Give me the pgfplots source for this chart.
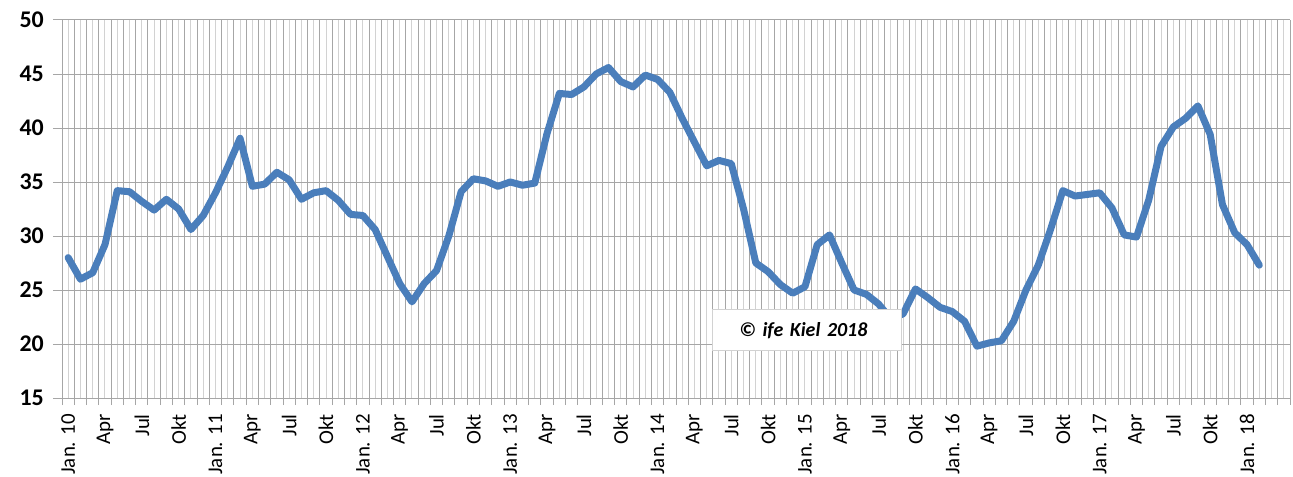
\documentclass[border=0pt]{standalone}
\usepackage{pgfplots}
\pgfplotsset{compat=1.18}
\usepackage{fontspec}
\setmainfont{Carlito}[BoldFont={Carlito Bold}, BoldItalicFont={Carlito Bold Italic}]
\definecolor{serie}{RGB}{74,126,187}
\definecolor{gridA}{RGB}{166,166,166}
\definecolor{gridB}{RGB}{210,210,210}
\begin{document}
\begin{tikzpicture}
\begin{axis}[
  at={(0,0)}, anchor=south west,
  scale only axis,
  width=1228bp, height=378bp,
  xmin=-0.5, xmax=99.5,
  ymin=15, ymax=50,
  ytick={15,20,...,50},
  xtick={0,...,99},
  xticklabels={Jan. 10,,,Apr,,,Jul,,,Okt,,,Jan. 11,,,Apr,,,Jul,,,Okt,,,Jan. 12,,,Apr,,,Jul,,,Okt,,,Jan. 13,,,Apr,,,Jul,,,Okt,,,Jan. 14,,,Apr,,,Jul,,,Okt,,,Jan. 15,,,Apr,,,Jul,,,Okt,,,Jan. 16,,,Apr,,,Jul,,,Okt,,,Jan. 17,,,Apr,,,Jul,,,Okt,,,Jan. 18,,,},
  minor xtick={-0.5,0.5,...,99.5},
  major tick length=9bp,
  minor tick length=7bp,
  major x tick style={draw=none},
  minor x tick style={draw=gridA, line width=1pt},
  ytick style={draw=gridA, line width=1pt},
  tick align=outside,
  xmajorgrids, xminorgrids, ymajorgrids,
  major x grid style={draw=gridB, line width=1pt},
  minor x grid style={draw=gridA, line width=1pt},
  major y grid style={draw=gridA, line width=1pt},
  axis x line*=bottom, axis y line*=left,
  axis line style={draw=gridA, line width=1pt},
  yticklabel style={font=\fontsize{24}{26}\selectfont\bfseries, anchor=east, inner sep=0pt, xshift=-9bp},
  xticklabel style={font=\fontsize{21}{23}\selectfont, yshift=-7bp, rotate=90, anchor=east, inner sep=0pt},
  /pgf/number format/assume math mode=true,
  clip=false,
]
\addplot[serie, line width=7bp, line join=round, line cap=round] table {
0 28.0
1 26.0
2 26.6
3 29.2
4 34.2
5 34.1
6 33.2
7 32.4
8 33.4
9 32.5
10 30.6
11 31.9
12 34.0
13 36.4
14 39.05
15 34.6
16 34.8
17 35.9
18 35.2
19 33.4
20 34.0
21 34.2
22 33.3
23 32.0
24 31.9
25 30.6
26 28.1
27 25.6
28 23.9
29 25.6
30 26.8
31 30.0
32 34.1
33 35.3
34 35.1
35 34.6
36 35.0
37 34.7
38 34.9
39 39.5
40 43.2
41 43.1
42 43.8
43 45.0
44 45.6
45 44.3
46 43.8
47 44.9
48 44.5
49 43.3
50 40.9
51 38.7
52 36.5
53 37.0
54 36.7
55 32.5
56 27.5
57 26.7
58 25.5
59 24.7
60 25.3
61 29.2
62 30.1
63 27.5
64 25.0
65 24.6
66 23.7
67 22.3
68 22.8
69 25.1
70 24.3
71 23.4
72 23.0
73 22.1
74 19.8
75 20.1
76 20.3
77 22.1
78 25.0
79 27.3
80 30.6
81 34.2
82 33.7
83 33.85
84 34.0
85 32.6
86 30.1
87 29.9
88 33.35
89 38.3
90 40.1
91 40.9
92 42.05
93 39.4
94 32.9
95 30.3
96 29.2
97 27.3
};
\node[draw=gridB, line width=1pt, fill=white, inner sep=0pt, text width=189bp, minimum height=41bp, align=left, font=\fontsize{20}{22}\selectfont\bfseries\itshape] at (axis cs:60.15,21.28) {\hspace*{27bp}©~ife~Kiel~2018};
\end{axis}
\pgfresetboundingbox
\path (-62bp,-79bp) rectangle (1231bp,398bp);
\end{tikzpicture}
\end{document}
